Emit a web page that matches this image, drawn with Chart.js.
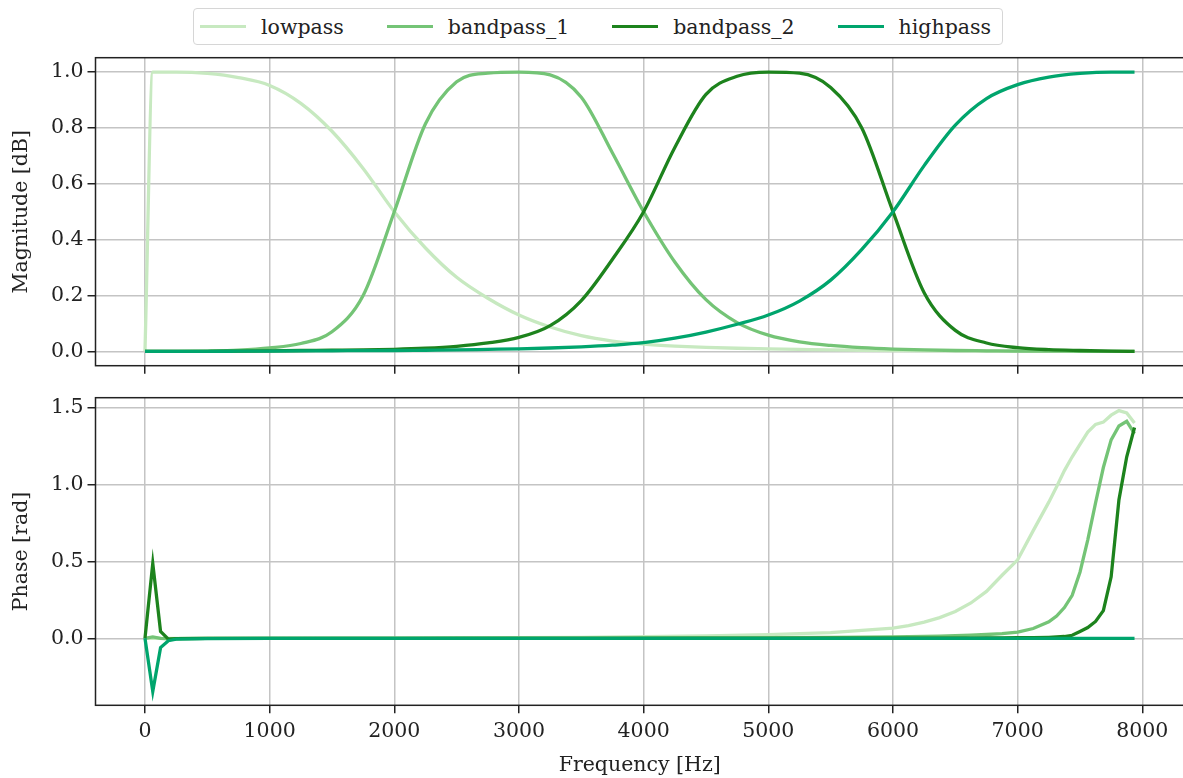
<!DOCTYPE html>
<html>
<head>
<meta charset="utf-8">
<script src="https://cdn.jsdelivr.net/npm/chart.js@4.4.1/dist/chart.umd.min.js"></script>
<style>
  html, body { margin: 0; padding: 0; background: #fff; overflow: hidden; }
  #wrap { position: relative; width: 1183px; height: 778px; overflow: hidden; }
  canvas { position: absolute; left: 0; }
  #magChart { top: 0; }
  #phaseChart { top: 380px; }
  #legend {
    position: absolute; left: 193px; top: 8px; width: 810px; height: 37px;
    box-sizing: border-box; border: 1.5px solid #d6d6d6; border-radius: 4px;
    display: flex; align-items: center; padding-left: 6px;
    font-family: 'DejaVu Serif'; font-size: 20.5px; color: #222; background: #fff;
  }
  .item { display: flex; align-items: center; margin-right: 43px; }
  .swatch { width: 46px; height: 3px; margin-right: 15px; }
</style>
</head>
<body>
<div id="wrap">
  <canvas id="magChart" width="1200" height="380"></canvas>
  <canvas id="phaseChart" width="1200" height="398"></canvas>
  <div id="legend"></div>
</div>
<script>
// values
var magFreq = [0, 62.5, 250, 500, 750, 1000, 1250, 1500, 1750, 2000, 2250, 2500, 2750, 3000, 3250, 3500, 3750, 4000,
  4250, 4500, 4750, 5000, 5250, 5500, 5750, 6000, 6250, 6500, 6750, 7000, 7250, 7500, 7750, 7937.5];

var lowpassMag = [0, 1.0, 1.0, 0.995, 0.98, 0.952, 0.888, 0.788, 0.655, 0.50, 0.37, 0.265, 0.19, 0.13, 0.087, 0.056, 0.037, 0.026,
  0.019, 0.014, 0.011, 0.009, 0.007, 0.005, 0.004, 0.003, 0.002, 0.002, 0.001, 0.001, 0.001, 0.0, 0.0, 0.0];
var bandpass1Mag = [0, 0, 0, 0.001, 0.004, 0.012, 0.028, 0.07, 0.2, 0.50, 0.815, 0.965, 0.996, 1.0, 0.99, 0.91, 0.71, 0.50,
  0.32, 0.185, 0.103, 0.058, 0.034, 0.021, 0.013, 0.008, 0.005, 0.003, 0.002, 0.001, 0.001, 0.0, 0.0, 0.0];
var bandpass2Mag = [0, 0, 0, 0, 0.001, 0.002, 0.003, 0.004, 0.005, 0.007, 0.011, 0.018, 0.03, 0.05, 0.092, 0.182, 0.33, 0.50,
  0.73, 0.92, 0.985, 1.0, 0.996, 0.945, 0.80, 0.50, 0.21, 0.075, 0.03, 0.013, 0.006, 0.003, 0.001, 0.0];
var highpassMag = [0, 0, 0, 0, 0.0005, 0.001, 0.0015, 0.002, 0.0025, 0.003, 0.004, 0.005, 0.007, 0.009, 0.012, 0.016, 0.022, 0.031,
  0.047, 0.069, 0.097, 0.13, 0.18, 0.255, 0.365, 0.50, 0.665, 0.81, 0.905, 0.955, 0.982, 0.995, 1.0, 1.0];

var phaseFreq = [0, 62.5, 125, 187.5, 250, 500, 1000, 1500, 2000, 2500, 3000, 3500, 4000, 4500, 5000, 5500, 6000, 6125, 6250,
  6375, 6500, 6625, 6750, 6875, 7000, 7125, 7250, 7312.5, 7375, 7437.5, 7500, 7562.5, 7625, 7687.5, 7750, 7812.5, 7875, 7937.5];

var lowpassPhase = [0, 0, 0, 0, 0, 0, 0, 0.001, 0.002, 0.003, 0.005, 0.007, 0.011, 0.016, 0.024, 0.037, 0.066, 0.083, 0.105,
  0.135, 0.175, 0.23, 0.305, 0.41, 0.51, 0.70, 0.885, 0.985, 1.09, 1.18, 1.26, 1.34, 1.39, 1.405, 1.45, 1.48, 1.465, 1.40];
var bandpass1Phase = [0, 0.01, 0.0, -0.004, -0.002, 0, 0, 0, 0, 0.001, 0.001, 0.002, 0.003, 0.004, 0.005, 0.007, 0.009, 0.011, 0.013,
  0.015, 0.017, 0.021, 0.025, 0.031, 0.041, 0.064, 0.107, 0.145, 0.20, 0.28, 0.43, 0.64, 0.88, 1.11, 1.29, 1.38, 1.41, 1.33];
var bandpass2Phase = [0, 0.487, 0.045, -0.005, -0.002, 0, 0, 0, 0, 0, 0, 0, 0, 0, 0, 0.001, 0.001, 0.001, 0.001,
  0.002, 0.002, 0.002, 0.003, 0.003, 0.004, 0.005, 0.007, 0.009, 0.012, 0.02, 0.045, 0.07, 0.11, 0.18, 0.40, 0.90, 1.18, 1.37];
var highpassPhase = [0, -0.345, -0.06, -0.015, -0.005, -0.002, 0, 0, 0, 0, 0, 0, 0, 0, 0, 0, 0, 0, 0,
  0, 0, 0, 0, 0, 0, 0, 0, 0, 0, 0, 0, 0, 0, 0, 0, 0, 0, 0];

var seriesNames = ['lowpass', 'bandpass_1', 'bandpass_2', 'highpass'];
var seriesColors = ['#c7e9c0', '#74c476', '#1d831d', '#00a56d'];

var freqTicks = [0, 1000, 2000, 3000, 4000, 5000, 6000, 7000, 8000];
var magTicks = [0, 0.2, 0.4, 0.6, 0.8, 1.0];
var phaseTicks = [0, 0.5, 1.0, 1.5];

var FONT = { family: 'DejaVu Serif', size: 20.5 };
var INK = '#222222';
var GRID = '#c4c4c4';

function make_points(xs, ys) {
  var pts = [];
  for (var i = 0; i < xs.length; i++) {
    pts.push({ x: xs[i], y: ys[i] });
  }
  return pts;
}

// draws the axes box (matplotlib spines) over the lines
var framePlugin = {
  id: 'frame',
  afterDatasetsDraw: function (chart) {
    var a = chart.chartArea, ctx = chart.ctx;
    ctx.save();
    ctx.strokeStyle = INK;
    ctx.lineWidth = 1.5;
    ctx.strokeRect(a.left, a.top, a.right - a.left, a.bottom - a.top);
    ctx.restore();
  }
};

function create_panel(canvasId, xs, series, yTitle, yTicks, yMin, yMax, padTop, xHeight, showX, smooth) {
  var datasets = [];
  for (var i = 0; i < series.length; i++) {
    datasets.push({
      label: seriesNames[i],
      data: make_points(xs, series[i]),
      borderColor: seriesColors[i],
      backgroundColor: seriesColors[i],
      borderWidth: 3.3,
      pointRadius: 0,
      fill: false,
      tension: smooth ? 0.4 : 0,
      cubicInterpolationMode: smooth ? 'monotone' : 'default',
      order: series.length - i
    });
  }

  return new Chart(document.getElementById(canvasId), {
    type: 'line',
    data: { datasets: datasets },
    plugins: [framePlugin],
    options: {
      responsive: false,
      animation: false,
      devicePixelRatio: 1,
      layout: { padding: { top: padTop, left: 0, right: 16, bottom: 0 } },
      plugins: { legend: { display: false }, tooltip: { enabled: false } },
      scales: {
        x: {
          type: 'linear',
          min: -396.875,
          max: 8334.375,
          afterBuildTicks: function (s) { s.ticks = freqTicks.map(function (v) { return { value: v }; }); },
          afterFit: function (s) { s.height = xHeight; },
          grid: { color: GRID, lineWidth: 1.5, tickColor: INK, tickWidth: 1.5, tickLength: 8 },
          border: { display: false },
          ticks: {
            display: showX, color: INK, font: FONT, maxRotation: 0, autoSkip: false, padding: 6,
            callback: function (v) { return String(v); }
          },
          title: { display: showX, text: 'Frequency [Hz]', color: INK, font: FONT, padding: { top: 0, bottom: 0 } }
        },
        y: {
          min: yMin,
          max: yMax,
          afterBuildTicks: function (s) { s.ticks = yTicks.map(function (v) { return { value: v }; }); },
          afterFit: function (s) {
            s.width = 95.5;
            // labels never reach the box edges here
            s.paddingTop = 0;
            s.paddingBottom = 0;
          },
          grid: { color: GRID, lineWidth: 1.5, tickColor: INK, tickWidth: 1.5, tickLength: 8 },
          border: { display: false },
          ticks: {
            color: INK, font: FONT, padding: 4,
            callback: function (v) { return v.toFixed(1); }
          },
          title: { display: true, text: yTitle, color: INK, font: FONT, padding: { top: 9, bottom: 0 } }
        }
      }
    }
  });
}

function build_legend() {
  var box = document.getElementById('legend');
  for (var i = 0; i < seriesNames.length; i++) {
    var item = document.createElement('div');
    item.className = 'item';
    var sw = document.createElement('span');
    sw.className = 'swatch';
    sw.style.background = seriesColors[i];
    var txt = document.createElement('span');
    txt.textContent = seriesNames[i];
    item.appendChild(sw);
    item.appendChild(txt);
    box.appendChild(item);
  }
}

create_panel('magChart', magFreq, [lowpassMag, bandpass1Mag, bandpass2Mag, highpassMag],
  'Magnitude [dB]', magTicks, -0.0514, 1.0514, 57.7, 14.3, false, true);

create_panel('phaseChart', phaseFreq, [lowpassPhase, bandpass1Phase, bandpass2Phase, highpassPhase],
  'Phase [rad]', phaseTicks, -0.435, 1.5637, 17.7, 72.7, true, false);

build_legend();
</script>
</body>
</html>
